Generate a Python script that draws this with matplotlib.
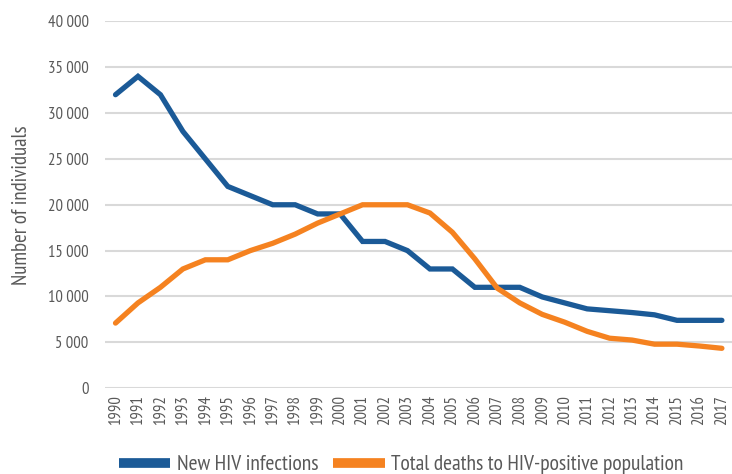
import matplotlib
matplotlib.use("Agg")
import matplotlib.pyplot as plt
from matplotlib.ticker import FuncFormatter

plt.rcParams['font.family'] = ['PT Sans Narrow', 'DejaVu Sans']

years = list(range(1990, 2018))
new_infections = [32000, 34000, 32000, 28000, 25000, 22000, 21000, 20000, 20000, 19000,
                  19000, 16000, 16000, 15000, 13000, 13000, 11000, 11000, 11000, 9950,
                  9300, 8650, 8450, 8250, 8000, 7400, 7400, 7400]
total_deaths = [7100, 9300, 11000, 13000, 14000, 14000, 15000, 15800, 16800, 18000,
                19000, 20000, 20000, 20000, 19100, 17000, 14100, 10900, 9300, 8050,
                7200, 6200, 5450, 5250, 4800, 4800, 4600, 4350]
labels = ['New HIV infections', 'Total deaths to HIV-positive population']
colors = ['#1b5a97', '#f58220']
text_color = '#595959'

fig = plt.figure(figsize=(7.32, 4.74), dpi=100)
ax = fig.add_axes([0.144, 0.181, 0.856, 0.774])

ax.plot(years, new_infections, color=colors[0], lw=3.8, label=labels[0],
        solid_capstyle='round', solid_joinstyle='miter')
ax.plot(years, total_deaths, color=colors[1], lw=3.8, label=labels[1],
        solid_capstyle='round', solid_joinstyle='miter')

ax.set_ylim(0, 40000)
ax.set_yticks(range(0, 40001, 5000))
ax.yaxis.set_major_formatter(FuncFormatter(
    lambda v, p: '0' if v == 0 else f'{int(v):,}'.replace(',', '\u2009')))
ax.set_xlim(1989.55, 2017.45)
ax.set_xticks(years)
ax.set_xticklabels([str(y) for y in years], rotation=90)
ax.grid(axis='y', color='#d9d9d9', lw=1.5)
ax.set_axisbelow(True)
for s in ax.spines.values():
    s.set_visible(False)
ax.tick_params(length=0, colors=text_color, labelsize=12)
ax.tick_params(axis='y', pad=12)
ax.tick_params(axis='x', pad=5)
ax.set_ylabel('Number of individuals', color=text_color, fontsize=15, labelpad=12)

# legend sits under the year labels
fig.legend(loc='lower center', bbox_to_anchor=(0.548, -0.04), ncol=2, frameon=False,
           fontsize=15.5, handlelength=2.4, handleheight=0.5, columnspacing=0.7,
           handletextpad=0.3, labelcolor=text_color)
for h in fig.legends[0].legend_handles:
    h.set_linewidth(7)
    h.set_solid_capstyle('butt')

fig.savefig('out.png', dpi=100)
